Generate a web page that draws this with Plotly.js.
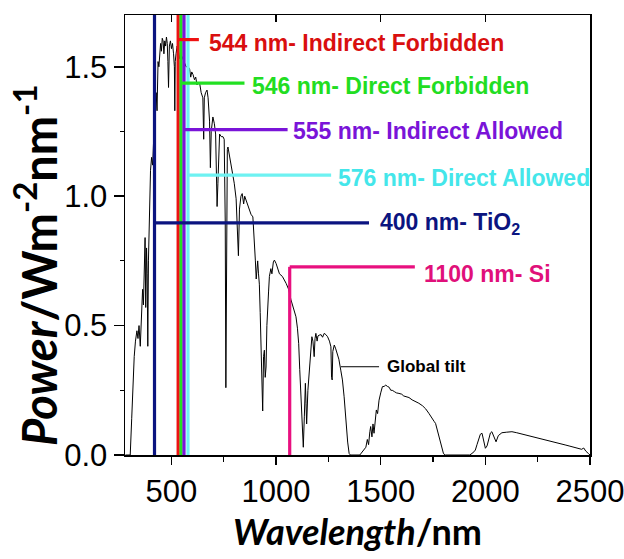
<!DOCTYPE html>
<html><head><meta charset="utf-8">
<script src="https://cdn.plot.ly/plotly-3.0.1.min.js"></script>
<style>html,body{margin:0;padding:0;background:#fff}#chart{width:624px;height:559px}</style>
</head><body><div id="chart"></div>
<script>
// AM1.5 global tilt spectrum
const wavelength = [280,295,300,303,310,316,322,328,335,340,345,351,356,362,366,370,374,377,381,384,387,390,393,396,400,405,410,414,418,422,427,431,436,440,444,448,452,456,460,464,468,472,476,480,483,486,490,495,500,505,510,514,516,518,522,527,533,540,550,560,570,580,587,592,597,603,610,616,622,628,635,642,650,654,657,663,670,675,682,686,690,698,705,711,715,718,722,726,730,738,746,752,757,760,763,767,770,780,793,800,809,814,820,825,832,838,845,850,857,865,873,880,889,893,897,901,905,912,916,920,924,928,932,936,940,944,948,952,956,960,964,968,975,980,987,992,1000,1016,1030,1048,1060,1071,1083,1095,1102,1108,1113,1119,1124,1127,1130,1135,1140,1143,1146,1152,1159,1165,1171,1176,1182,1186,1190,1196,1200,1206,1215,1222,1230,1238,1246,1255,1262,1265,1268,1271,1278,1285,1293,1300,1309,1317,1325,1331,1336,1342,1349,1355,1400,1410,1420,1429,1436,1442,1448,1452,1458,1463,1468,1474,1479,1485,1492,1500,1508,1516,1524,1532,1540,1548,1555,1565,1575,1587,1600,1610,1619,1635,1650,1665,1682,1700,1715,1730,1745,1755,1762,1770,1778,1785,1793,1800,1809,1925,1940,1952,1960,1968,1976,1984,1992,2000,2008,2016,2024,2031,2040,2051,2062,2079,2100,2127,2150,2175,2200,2222,2250,2275,2301,2325,2350,2381,2400,2420,2444,2460,2470,2480,2492,2500];
const power = [0,0,0,0,0.14,0.27,0.38,0.44,0.48,0.45,0.50,0.42,0.55,0.64,0.58,0.75,0.84,0.57,0.80,0.70,0.42,0.75,0.86,1.06,1.10,1.15,1.12,1.20,1.16,1.30,1.40,1.33,1.52,1.50,1.58,1.59,1.56,1.61,1.60,1.55,1.60,1.58,1.615,1.59,1.52,1.42,1.58,1.60,1.57,1.59,1.55,1.50,1.33,1.52,1.55,1.58,1.56,1.53,1.54,1.52,1.50,1.50,1.49,1.46,1.48,1.47,1.45,1.46,1.43,1.44,1.435,1.40,1.38,1.22,1.38,1.40,1.41,1.38,1.29,1.11,1.25,1.306,1.28,1.24,1.10,0.96,1.05,1.20,1.24,1.23,1.23,1.22,0.90,0.26,0.70,1.18,1.19,1.14,1.09,1.05,0.99,0.90,0.77,0.95,1.00,1.01,0.97,1.00,0.985,0.96,0.946,0.93,0.92,0.87,0.83,0.75,0.68,0.75,0.70,0.66,0.55,0.43,0.30,0.17,0.38,0.405,0.30,0.34,0.50,0.60,0.63,0.69,0.72,0.70,0.746,0.753,0.74,0.70,0.69,0.663,0.64,0.60,0.57,0.534,0.49,0.43,0.33,0.21,0.13,0.084,0.03,0.15,0.277,0.20,0.12,0.25,0.34,0.42,0.457,0.44,0.38,0.45,0.47,0.44,0.46,0.463,0.465,0.455,0.47,0.465,0.457,0.44,0.418,0.30,0.29,0.40,0.425,0.41,0.393,0.37,0.328,0.29,0.225,0.16,0.109,0.05,0.006,0,0,0.01,0.02,0.03,0.06,0.04,0.09,0.11,0.07,0.12,0.084,0.15,0.174,0.16,0.212,0.24,0.264,0.265,0.27,0.265,0.262,0.25,0.25,0.245,0.24,0.238,0.235,0.228,0.225,0.222,0.213,0.208,0.20,0.19,0.178,0.161,0.145,0.13,0.122,0.095,0.07,0.045,0.019,0.005,0,0,0.008,0.019,0.04,0.058,0.08,0.084,0.06,0.026,0.035,0.058,0.085,0.09,0.075,0.051,0.075,0.086,0.088,0.09,0.086,0.081,0.076,0.072,0.066,0.062,0.058,0.052,0.046,0.039,0.035,0.03,0.026,0.022,0.027,0.015,0.006,0];

// band-edge markers
const markerNames = ["400 nm- TiO<sub>2</sub>","544 nm- Indirect Forbidden","546 nm- Direct Forbidden","555 nm- Indirect Allowed","576 nm- Direct Allowed","1100 nm- Si"];
const markerNm    = [419, 532, 546, 560, 579, 1065];   // drawn positions
const markerTop   = [1.7, 1.7, 1.7, 1.7, 1.7, 0.727];
const armY        = [0.897, 1.605, 1.437, 1.257, 1.081, 0.727];
const armEndNm    = [1444, 631, 849, 1055, 1263, 1663];
const labelNm     = [1489, 669, 873, 1073, 1287, 1698];
const labelY      = [0.896, 1.591, 1.424, 1.252, 1.071, 0.698];
const lineColors  = ["#0b1480","#ee1111","#22e022","#7a14d8","#6ef2f2","#e8107f"];
const textColors  = ["#0b1480","#d90f0f","#22dd22","#7a14d8","#44e6ea","#e0107a"];
const drawOrder   = [0, 5, 1, 2, 3, 4];

const globalTiltX = [1310, 1492];
const globalTiltY = [0.341, 0.341];
const globalTiltLabel = "Global tilt";

const xTicks = [500,1000,1500,2000,2500];
const yTicks = [0.0,0.5,1.0,1.5];
const yTickText = ["0.0","0.5","1.0","1.5"];

const traces = [{
  x: wavelength, y: power, type: 'scatter', mode: 'lines',
  line: {color: '#000', width: 1}, hoverinfo: 'skip', showlegend: false
}];
drawOrder.forEach(i => {
  traces.push({x: [markerNm[i], markerNm[i]], y: [0, markerTop[i]], type: 'scatter', mode: 'lines',
    line: {color: lineColors[i], width: 3.2}, showlegend: false, hoverinfo: 'skip'});
});
drawOrder.forEach(i => {
  traces.push({x: [markerNm[i], armEndNm[i]], y: [armY[i], armY[i]], type: 'scatter', mode: 'lines',
    line: {color: lineColors[i], width: 3.2}, showlegend: false, hoverinfo: 'skip'});
});
traces.push({x: globalTiltX, y: globalTiltY, xaxis: 'x2', yaxis: 'y', type: 'scatter', mode: 'lines',
  line: {color: '#000', width: 1}, showlegend: false, hoverinfo: 'skip'});

const labelFont = "Liberation Sans, Arial, sans-serif";
const titleFont = "Lato, Liberation Sans, sans-serif";
const annotations = markerNames.map((t, i) => ({
  x: labelNm[i], y: labelY[i], xref: 'x', yref: 'y', text: '<b>' + t + '</b>',
  showarrow: false, xanchor: 'left', yanchor: 'middle',
  font: {family: labelFont, size: 23, color: textColors[i]}
}));
annotations.push({x: globalTiltX[1] + 28, y: globalTiltY[1], xref: 'x', yref: 'y', text: '<b>' + globalTiltLabel + '</b>',
  showarrow: false, xanchor: 'left', yanchor: 'middle', font: {family: labelFont, size: 17, color: '#000'}});
annotations.push({x: -0.191, y: 0.43, xref: 'paper', yref: 'paper', textangle: -90,
  text: '<b><i>Power</i>/Wm<sup>-2</sup>nm<sup>-1</sup></b>', showarrow: false, xanchor: 'center', yanchor: 'middle',
  font: {family: titleFont, size: 47, color: '#000'}});

const layout = {
  width: 624, height: 559,
  margin: {l: 125, r: 34, t: 15, b: 104},
  paper_bgcolor: '#fff', plot_bgcolor: '#fff',
  showlegend: false,
  xaxis: {
    range: [278, 2500], tickmode: 'array', tickvals: xTicks, ticktext: xTicks.map(String),
    ticks: 'outside', ticklen: 8, tickwidth: 1.5, tickcolor: '#000', ticklabeloverflow: 'allow',
    minor: {tickmode: 'linear', tick0: 250, dtick: 250, ticks: 'outside', ticklen: 5, tickwidth: 1.2, tickcolor: '#000'},
    showline: true, linecolor: '#000', linewidth: 1.5, mirror: true,
    showgrid: false, zeroline: false,
    tickfont: {family: labelFont, size: 31, color: '#000'},
    title: {text: '<b><i>Wavelength</i>/nm</b>', font: {family: titleFont, size: 36, color: '#000'}, standoff: 8}
  },
  xaxis2: {
    overlaying: 'x', side: 'top', anchor: 'y', range: [278, 2500],
    tickmode: 'array', tickvals: [500,1000,1500,2000], ticks: 'inside', ticklen: 7, tickwidth: 1.5, tickcolor: '#000',
    showticklabels: false, showline: false, showgrid: false, zeroline: false
  },
  yaxis: {
    range: [0, 1.7], tickmode: 'array', tickvals: yTicks, ticktext: yTickText,
    ticks: 'outside', ticklen: 10, tickwidth: 1.5, tickcolor: '#000',
    minor: {tickmode: 'linear', tick0: 0.25, dtick: 0.25, ticks: 'outside', ticklen: 4, tickwidth: 1.2, tickcolor: '#000'},
    showline: true, linecolor: '#000', linewidth: 1.5, mirror: true,
    showgrid: false, zeroline: false,
    tickfont: {family: labelFont, size: 31, color: '#000'}
  },
  annotations: annotations
};

Plotly.newPlot('chart', traces, layout, {staticPlot: true, displayModeBar: false});
</script></body></html>
